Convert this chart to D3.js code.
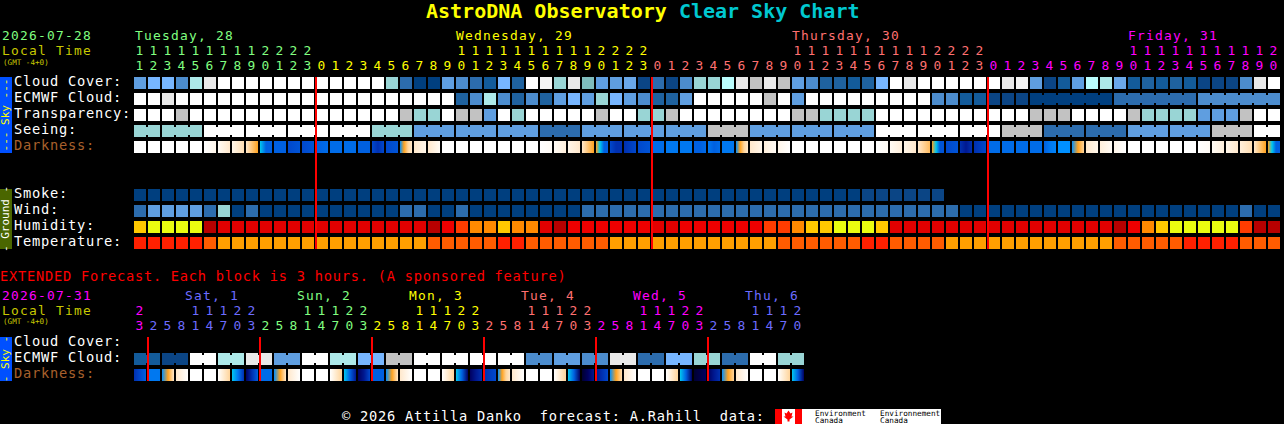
<!DOCTYPE html>
<html>
<head>
<meta charset="utf-8">
<script src="https://cdn.jsdelivr.net/npm/d3@7"></script>
<style>
  html, body { margin: 0; padding: 0; background: #000; overflow: hidden; }
  text { font-family: "DejaVu Sans Mono", monospace; }
</style>
</head>
<body>
<script>
// hours across the top of the two tables
var hours = [11,12,13,14,15,16,17,18,19,20,21,22,23,
  0,1,2,3,4,5,6,7,8,9,10,11,12,13,14,15,16,17,18,19,20,21,22,23,
  0,1,2,3,4,5,6,7,8,9,10,11,12,13,14,15,16,17,18,19,20,21,22,23,
  0,1,2,3,4,5,6,7,8,9,10,11,12,13,14,15,16,17,18,19,20];
var extHours = [23,2,5,8,11,14,17,20,23,2,5,8,11,14,17,20,23,2,5,8,11,14,17,20,23,
  2,5,8,11,14,17,20,23,2,5,8,11,14,17,20,23,2,5,8,11,14,17,20];

var dayNames = ["Tuesday, 28","Wednesday, 29","Thursday, 30","Friday, 31"];
var dayCols = [0,23,47,71];
var dayColors = ["#80ff80","#ffff00","#ff7070","#ff00ff"];
var extDayNames = ["Sat, 1","Sun, 2","Mon, 3","Tue, 4","Wed, 5","Thu, 6"];
var extDayCols = [4,12,20,28,36,44];
var extDayColors = ["#ff00ff","#6c6cff","#80ff80","#ffff00","#ff7070","#ff00ff","#6c6cff"];

// sky rows, percent on the chart's own blue-to-white scale
var cloudCover = [40,50,50,30,70,90,100,100,100,100,100,100,100,100,100,100,100,100,60,20,0,
  0,40,30,20,10,50,15,100,95,60,90,55,40,40,45,5,20,5,30,60,60,80,90,85,90,85,40,30,15,15,10,
  15,50,100,90,100,100,100,100,100,100,90,95,40,5,10,40,80,70,45,10,15,10,15,10,5,5,5,30,90,100];
var ecmwfCloud = [100,100,90,100,100,100,100,100,100,100,100,100,100,100,100,100,100,100,100,100,100,
  100,100,15,30,70,30,15,30,15,40,50,40,60,50,40,30,15,15,40,100,100,100,100,100,85,100,40,
  100,100,100,100,100,100,100,100,100,30,30,10,10,5,5,5,0,0,0,0,0,0,20,20,20,20,20,20,30,30,30,30,30,30];
var transparency = [100,100,100,85,100,100,100,100,100,100,100,100,100,100,100,100,100,100,100,85,60,
  60,100,85,85,40,100,60,100,100,100,100,100,85,100,100,60,60,85,100,100,100,100,100,100,100,100,85,85,
  60,60,60,60,100,100,100,100,100,100,100,100,100,100,100,85,85,85,100,100,100,100,85,60,60,60,60,40,40,40,85,100,100];
var seeingBlocks = [60,60,100,100,100,100,60,40,40,40,20,40,40,40,85,40,40,40,100,100,100,85,20,20,40,40,85,100];
var seeingLengths = [2,3,3,3,3,3,3,3,3,3,3,3,3,3,3,3,3,3,3,3,3,3,3,3,3,3,3,2];

// darkness: several readings across each block, light (-5) to deep night (8)
var darkness = [[-5],[-5],[-5],[-5],[-5],[-5,-4],[-4.5,-3],[-4,-2.5],[-3,-1],[0,3,3],[3],[4,3.5],[4,3.5],[3,2.5],[2.5],[2.5],[3],[4,5,4],[4,3.5],[1,-1,-2,-3],[-3,-4],
  [-3,-4.5],[-5],[-5],[-5],[-5],[-5],[-5],[-5],[-5,-4.5],[-4.5,-3.5],[-4,-3],[-3,-1],[-1,0,3,3],[4,5,5],[5,4.5,4],[4,3.5],[2.5],[2],[2],[3,3,2.5],[2,3,2.5],[2],[1,-1,-2,-3],[-3,-4],[-3.5,-4.5],[-4,-5],
  [-5],[-5],[-5],[-5],[-5],[-5],[-5,-4.5],[-4.5,-3.5],[-4,-3],[-3,-1.5],[-1,0,3.5,3.5],[4,3.5],[5,6,5],[5,4],[2.5],[2.5],[2.5],[2.5],[3,2,1.5],[1],[1,-1,-2],[-3,-4],[-3.5,-4.5],[-4,-5],
  [-5],[-5],[-5],[-5],[-5],[-5,-4.5],[-4.5,-3.5],[-4,-3],[-3.5,-2.5],[-3,-1],[-1,0,3,3]];

// ground rows
var smoke = [0,0,0,0,0,0,0,0,0,0,0,0,0,0,0,0,0,0,0,0,0,0,0,0,0,0,0,0,0,0,0,0,0,0,0,0,0,0,0,0,0,0,0,0,0,0,0,0,0,0,0,0,5,5,5,5,5,5];
var wind = [20,40,40,40,40,20,60,0,20,0,0,0,0,0,0,0,0,0,0,20,20,
  0,0,20,0,0,0,0,0,0,0,0,20,20,20,20,20,20,20,20,20,20,20,20,20,20,20,20,20,20,20,20,
  20,20,20,20,20,20,20,0,0,0,0,0,0,0,0,0,0,0,0,0,0,0,0,0,0,0,0,20,0,0];
var humidity = [60,55,55,55,55,85,80,80,80,80,80,80,80,80,80,80,80,80,80,80,80,
  85,75,70,65,65,60,65,65,80,85,75,75,75,75,75,75,80,80,75,75,75,75,75,75,70,70,65,60,60,55,55,
  55,60,80,80,80,80,80,80,80,80,80,80,80,80,80,80,80,80,85,75,65,60,55,55,55,55,55,70,85,85];
var temperature = [86,86,86,86,86,77,68,68,68,68,68,68,68,68,68,68,68,68,68,68,68,
  77,77,77,77,77,86,86,77,77,77,77,77,77,68,68,68,68,68,68,68,68,68,68,68,68,77,77,77,77,77,77,
  86,86,77,77,77,77,68,68,68,68,68,68,68,68,68,68,68,68,77,77,77,77,77,86,86,86,86,77,77,77];

// extended table, one value per pair of 3 hour blocks
var extEcmwf = [10,5,100,70,90,40,100,70,50,85,100,100,100,100,30,40,30,90,20,50,60,20,100,60];
var extDarkness = [[5,4,3],[2],[1,-1,-3],[-3,-5],[-5],[-5],[-5,-2],[0,2,5],[7,5,3],[2.5],[1,-1,-3],[-3,-5],[-5],[-5],[-5,-2],[0,3,6],
  [7,6,4],[3],[1,-1,-3],[-3,-5],[-5],[-5],[-5,-2],[0,3,7],[7,6,5],[5,4],[1,-1,-2,-3],[-3,-5],[-5],[-5],[-5,-2],[0,3,7],
  [8,7,6],[6,5,4],[1,-1,-2.5],[-3,-5],[-5],[-5],[-5,-2],[0,3,7],[8,7],[7,6,5],[1,-1,-2],[-3,-5],[-5],[-5],[-5,-2],[0,3,7]];

var skyLevels = [0,5,10,15,20,30,40,45,50,55,60,70,80,85,90,95,100];
var skyColors = ["#003f7f","#0b4585","#135b9a","#1f629f","#2c6cad","#4c8ccd","#5f9ee0","#6aa8ea","#77b6ff","#7fbcbc","#99d5d5","#ade9e9","#b9fdfd","#c2c2c2","#e9e9e9","#f4f4f4","#ffffff"];
var humidityLevels = [55,60,65,70,75,80,85];
var humidityColors = ["#eafd10","#ffc800","#ff8a00","#ff3c00","#ee0000","#e20000","#b80000"];
var temperatureLevels = [68,77,86];
var temperatureColors = ["#ff9f00","#ff5c00","#ff2000"];
var darkLevels = [-5,-4,-3,-2,-1,-0.1,0,1,2,3,4,5,6,7,8];
var darkColors = ["#ffffff","#fff6ea","#ffe8cc","#ffd49a","#ffa21f","#ffa21f","#00c8f0","#0090ff","#0078f0","#0060e0","#0048cc","#0030b0","#001890","#000060","#000030"];

var width = 1284, height = 424,
    cellW = 12, rowH = 12,
    fontSize = 12.9,     // header rows sit only 15px apart
    labelSize = 13.7;    // everything else has more room

var x = d3.scaleLinear().domain([0, 82]).range([134, 134 + 82 * 14]);
var y = d3.scaleLinear().domain([0, 1]).range([77, 93]);   // rows sit on one 16px grid

var skyColor = d3.scaleOrdinal().domain(skyLevels).range(skyColors);
var humidityColor = d3.scaleOrdinal().domain(humidityLevels).range(humidityColors);
var temperatureColor = d3.scaleOrdinal().domain(temperatureLevels).range(temperatureColors);
var darkColor = d3.scaleLinear().domain(darkLevels).range(darkColors).interpolate(d3.interpolateRgb);

var svg = d3.select("body").append("svg").attr("width", width).attr("height", height)
    .style("display", "block").style("background", "#000");
var defs = svg.append("defs");

var marks = svg.append("g");
var labels = svg.append("g");

function addText(tx, ty, str, color, size, bold) {
  return labels.append("text").attr("x", tx).attr("y", ty).attr("fill", color)
    .attr("font-size", size).attr("font-weight", bold ? "bold" : null)
    .style("white-space", "pre").text(str);
}

// the 9px per character the original font has
function addMono(tx, ty, str, color, size) {
  return addText(tx, ty, str, color, size).attr("letter-spacing", 9 - 0.602 * size);
}

function cells(row, values, color) {
  marks.append("g").selectAll("rect").data(values).enter().append("rect")
    .attr("x", function(d, i) { return x(i); })
    .attr("y", y(row))
    .attr("width", cellW).attr("height", rowH)
    .attr("fill", function(d) { return color(d); });
}

// blocks belonging together get a narrower bridge across the gap
function bridges(row, values, color, lengths) {
  var cols = [], start = 0;
  lengths.forEach(function(n) {
    for (var k = 0; k < n - 1; k++) cols.push(start + k);
    start += n;
  });
  marks.append("g").selectAll("rect").data(cols).enter().append("rect")
    .attr("x", function(c) { return x(c) + cellW; })
    .attr("y", y(row) + 2)
    .attr("width", 2).attr("height", rowH - 4)
    .attr("fill", function(c) { return color(values[c]); });
}

function darkCells(row, values, prefix) {
  values.forEach(function(stops, i) {
    var fill;
    if (stops.length == 1) {
      fill = darkColor(stops[0]);
    } else {
      var g = defs.append("linearGradient").attr("id", prefix + i);
      stops.forEach(function(s, k) {
        g.append("stop").attr("offset", k / (stops.length - 1)).attr("stop-color", darkColor(s));
      });
      fill = "url(#" + prefix + i + ")";
    }
    marks.append("rect").attr("x", x(i)).attr("y", y(row)).attr("width", cellW).attr("height", rowH).attr("fill", fill);
  });
}

function hourLabels(list, colorOf, tensY, unitsY) {
  var day = 0;
  list.forEach(function(h, i) {
    if (i > 0 && h < list[i - 1]) day++;
    var c = colorOf[day];
    if (h >= 10) addMono(x(i) + 6, tensY, String(Math.floor(h / 10)), c, fontSize).attr("text-anchor", "middle");
    addMono(x(i) + 6, unitsY, String(h % 10), c, fontSize).attr("text-anchor", "middle");
  });
}

function midnightLines(list, rowFrom, rowTo) {
  list.forEach(function(h, i) {
    if (i > 0 && h < list[i - 1]) {
      marks.append("line").attr("x1", x(i)).attr("x2", x(i))
        .attr("y1", y(rowFrom)).attr("y2", y(rowTo))
        .attr("stroke", "#ff0000").attr("stroke-width", 2);
    }
  });
}

function sideBar(rowFrom, rowTo, fill, label, color) {
  var y0 = y(rowFrom), y1 = y(rowTo) + rowH;
  marks.append("rect").attr("x", 0).attr("y", y0).attr("width", 12).attr("height", y1 - y0).attr("fill", fill);
  addText(0, 0, label, color, 11).attr("text-anchor", "middle")
    .attr("transform", "translate(9," + (y0 + y1) / 2 + ") rotate(-90)");
}

// title
var title = addText(426, 18, "", "#ffff00", 20, true);
title.append("tspan").attr("fill", "#ffff00").text("AstroDNA Observatory ");
title.append("tspan").attr("fill", "#00c8d0").text("Clear Sky Chart");

// main table header
addMono(2, 40, "2026-07-28", "#80ff80", fontSize);
addMono(2, 55, "Local Time", "#c8c800", fontSize);
addText(3, 65, "(GMT -4+0)", "#c8c800", 7.6);
dayNames.forEach(function(d, i) { addMono(x(dayCols[i]) + (i == 0 ? 1 : 0), 40, d, dayColors[i], fontSize); });
hourLabels(hours, dayColors, 55, 70);

// row labels
var skyLabels = ["Cloud Cover:", "ECMWF Cloud:", "Transparency:", "Seeing:", "Darkness:"];
skyLabels.forEach(function(s, i) { addMono(14, y(i) + 9, s, i == 4 ? "#a8602c" : "#ffffff", labelSize); });
var groundLabels = ["Smoke:", "Wind:", "Humidity:", "Temperature:"];
groundLabels.forEach(function(s, i) { addMono(14, y(i + 7) + 9, s, "#ffffff", labelSize); });

// sky rows
var seeing = [];
seeingBlocks.forEach(function(v, i) { for (var k = 0; k < seeingLengths[i]; k++) seeing.push(v); });
var ecmwfLengths = [];
ecmwfCloud.slice(0, 64).forEach(function() { ecmwfLengths.push(1); });
ecmwfLengths.push(6, 6, 6);

cells(0, cloudCover, skyColor);
cells(1, ecmwfCloud, skyColor);
bridges(1, ecmwfCloud, skyColor, ecmwfLengths);
cells(2, transparency, skyColor);
cells(3, seeing, skyColor);
bridges(3, seeing, skyColor, seeingLengths);
darkCells(4, darkness, "d");

// ground rows
cells(7, smoke, skyColor);
cells(8, wind, skyColor);
cells(9, humidity, humidityColor);
cells(10, temperature, temperatureColor);

midnightLines(hours, 0, 10.75);
sideBar(0, 4, "#0050ff", "--- Sky ---", "#ffff00");
sideBar(7, 10, "#4a6600", "- Ground -", "#ffffff");

// extended forecast
var extRow = 16.25;
addMono(0, 281, "EXTENDED Forecast. Each block is 3 hours. (A sponsored feature)", "#ff0000", labelSize);
addMono(2, 300, "2026-07-31", "#ff00ff", fontSize);
addMono(2, 315, "Local Time", "#c8c800", fontSize);
addText(3, 324, "(GMT -4+0)", "#c8c800", 7.6);
extDayNames.forEach(function(d, i) { addMono(x(extDayCols[i]) - 5, 300, d, extDayColors[i + 1], fontSize); });
hourLabels(extHours, extDayColors, 315, 330);

addMono(14, y(extRow) + 9, "Cloud Cover:", "#ffffff", labelSize);
addMono(14, y(extRow + 1) + 9, "ECMWF Cloud:", "#ffffff", labelSize);
addMono(14, y(extRow + 2) + 9, "Darkness:", "#a8602c", labelSize);

var extCloud = [], extLengths = [];
extEcmwf.forEach(function(v) { extCloud.push(v, v); extLengths.push(2); });
cells(extRow + 1, extCloud, skyColor);
bridges(extRow + 1, extCloud, skyColor, extLengths);
darkCells(extRow + 2, extDarkness, "e");
midnightLines(extHours, extRow, extRow + 2.75);
sideBar(extRow, extRow + 2, "#0050ff", "- Sky -", "#ffff00");

// footer with the data source badge
addMono(342, 421, "\u00a9 2026 Attilla Danko  forecast: A.Rahill  data:", "#ffffff", labelSize);
var badge = marks.append("g");
badge.append("rect").attr("x", 775).attr("y", 409).attr("width", 166).attr("height", 15).attr("fill", "#fff");
badge.append("rect").attr("x", 775).attr("y", 409).attr("width", 7).attr("height", 15).attr("fill", "#ff0000");
badge.append("rect").attr("x", 795).attr("y", 409).attr("width", 7).attr("height", 15).attr("fill", "#ff0000");
badge.append("path").attr("d", "M788.5 410.5l2 3 2-1-1 4 2 0-4 3v2h-2v-2l-4-3 2 0-1-4 2 1z").attr("fill", "#ff0000");
[815, 880].forEach(function(tx, i) {
  addText(tx, 416, i ? "Environnement" : "Environment", "#000", 7.7);
  addText(tx, 423, "Canada", "#000", 7.7);
});
</script>
</body>
</html>
